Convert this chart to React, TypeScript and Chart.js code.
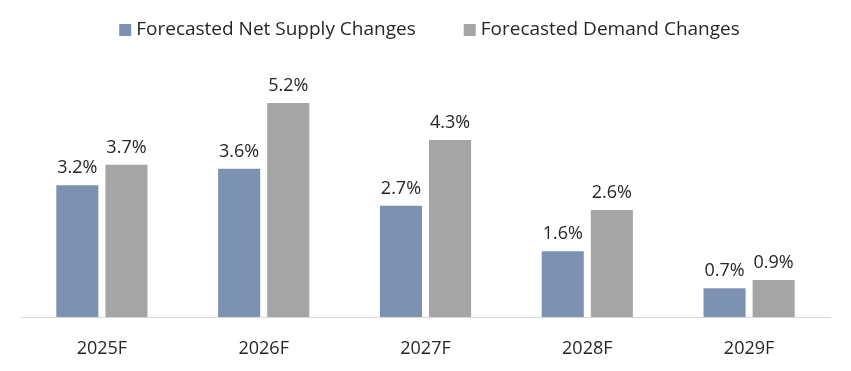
import React, { useEffect, useRef } from "react";
import { Chart, registerables } from "chart.js";

Chart.register(...registerables);

const categories = ["2025F", "2026F", "2027F", "2028F", "2029F"];
const supplyValues = [3.2, 3.6, 2.7, 1.6, 0.7];
const demandValues = [3.7, 5.2, 4.3, 2.6, 0.9];
const seriesNames = ["Forecasted Net Supply Changes", "Forecasted Demand Changes"];
const seriesColors = ["#7d92b2", "#a5a5a5"];

const FONT = "'Open Sans', 'Noto Sans', sans-serif";
const TEXT_COLOR = "#262626";

const labelPlugin = {
  id: "barLabels",
  afterDatasetsDraw(chart: any) {
    const ctx = chart.ctx;
    ctx.save();
    ctx.font = `18px ${FONT}`;
    ctx.fillStyle = TEXT_COLOR;
    ctx.textAlign = "center";
    ctx.textBaseline = "alphabetic";
    chart.data.datasets.forEach((ds: any, i: number) => {
      const meta = chart.getDatasetMeta(i);
      meta.data.forEach((el: any, j: number) => {
        ctx.fillText(ds.data[j].toFixed(1) + "%", el.x, el.y - 12);
      });
    });
    ctx.restore();
  },
};

const legendPlugin = {
  id: "customLegend",
  afterDraw(chart: any) {
    const ctx = chart.ctx;
    ctx.save();
    ctx.font = `19px ${FONT}`;
    ctx.textBaseline = "middle";
    ctx.textAlign = "left";
    const box = 12;
    const boxGap = 5;
    const itemGap = 48;
    const items = chart.data.datasets.map((ds: any) => ({
      text: ds.label,
      color: ds.backgroundColor,
      w: ctx.measureText(ds.label).width,
    }));
    let total = 0;
    items.forEach((it: any, i: number) => {
      total += box + boxGap + it.w + (i < items.length - 1 ? itemGap : 0);
    });
    const cx = (chart.chartArea.left + chart.chartArea.right) / 2 + 4;
    let x = cx - total / 2;
    const cy = 30;
    items.forEach((it: any) => {
      ctx.fillStyle = it.color;
      ctx.fillRect(x, cy - box / 2, box, box);
      x += box + boxGap;
      ctx.fillStyle = TEXT_COLOR;
      ctx.fillText(it.text, x, cy);
      x += it.w + itemGap;
    });
    ctx.restore();
  },
};

export default function App() {
  const ref = useRef<HTMLCanvasElement>(null);
  useEffect(() => {
    if (!ref.current) return;
    const chart = new Chart(ref.current, {
      type: "bar",
      data: {
        labels: categories,
        datasets: [
          {
            label: seriesNames[0],
            data: supplyValues,
            backgroundColor: seriesColors[0],
            categoryPercentage: 0.607,
            barPercentage: 0.857,
          },
          {
            label: seriesNames[1],
            data: demandValues,
            backgroundColor: seriesColors[1],
            categoryPercentage: 0.607,
            barPercentage: 0.857,
          },
        ],
      },
      options: {
        animation: false,
        responsive: false,
        layout: { padding: { left: 21, right: 21, top: 70, bottom: 0 } },
        plugins: {
          legend: { display: false },
          tooltip: { enabled: false },
        },
        scales: {
          x: {
            grid: { display: false, drawTicks: false },
            border: { display: true, color: "#d9d9d9", width: 1 },
            ticks: { font: { family: FONT, size: 18 }, color: TEXT_COLOR, padding: 21 },
            afterFit(scale: any) {
              scale.height = 54;
            },
          },
          y: {
            display: false,
            min: 0,
            max: 6,
          },
        },
      },
      plugins: [labelPlugin, legendPlugin],
    });
    return () => chart.destroy();
  }, []);
  return (
    <div style={{ position: "fixed", left: 0, top: 0, width: 851, height: 371, background: "#fff" }}>
      <canvas ref={ref} width={851} height={371} />
    </div>
  );
}
